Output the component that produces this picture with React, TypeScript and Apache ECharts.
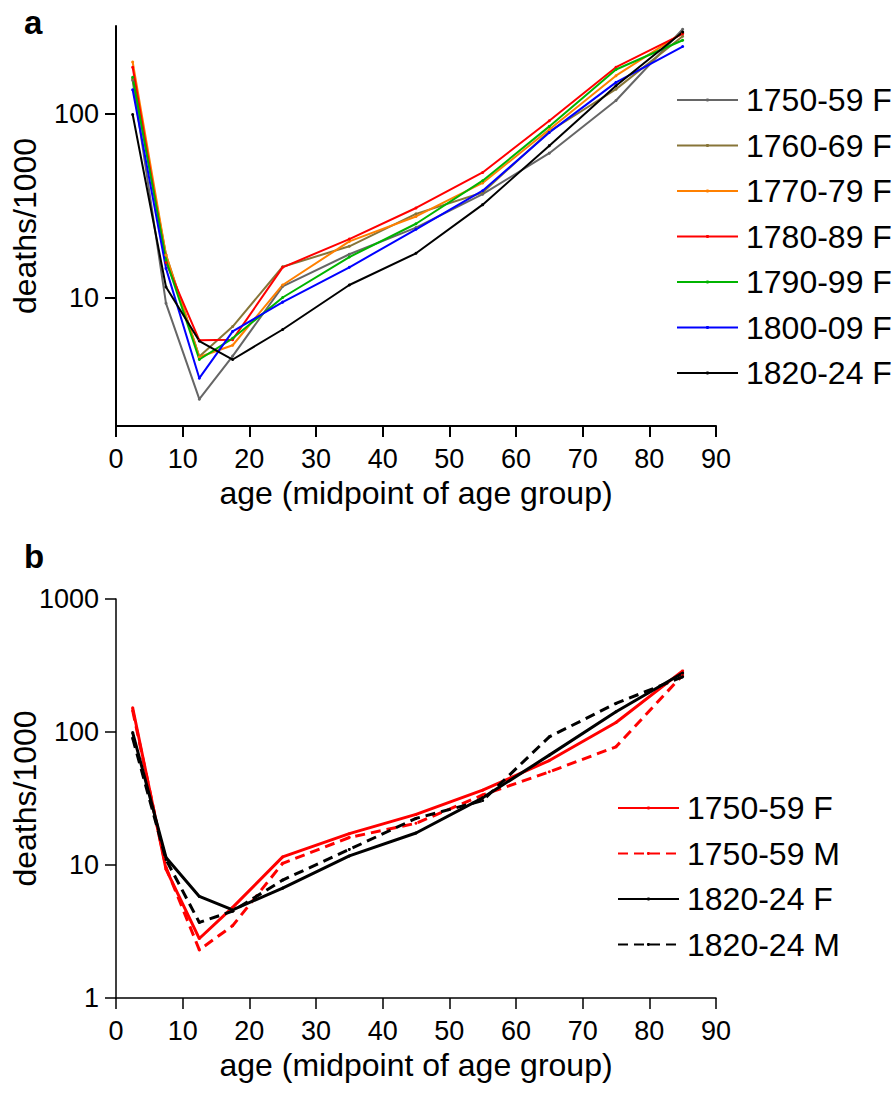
import React, { useEffect, useRef } from "react";
import * as echarts from "echarts";

const FONT = "'Liberation Sans', Arial, Helvetica, sans-serif";

// ages (midpoint of age group)
const ages = [2.5, 7.5, 12.5, 17.5, 25, 35, 45, 55, 65, 75, 85];

// panel a: female death rates per 1000
const f1750 = [152, 9.3, 2.8, 4.8, 11.5, 17.2, 24, 36.5, 61, 118, 288];
const f1760 = [155, 17.1, 4.78, 6.95, 14.7, 19.0, 28.5, 37.3, 80, 136, 264];
const f1770 = [191, 17, 4.75, 5.5, 11.7, 20.2, 27.6, 42, 82, 161, 275];
const f1780 = [179, 15.5, 5.85, 5.9, 14.6, 20.8, 30.7, 47.9, 91.6, 179, 272];
const f1790 = [158, 16, 4.6, 6.0, 10.0, 16.6, 25.2, 43.2, 85.3, 174, 251];
const f1800 = [135, 14.4, 3.64, 6.54, 9.44, 14.6, 23.5, 38.1, 79.1, 148, 232];
const f1820 = [99, 11.4, 5.8, 4.6, 6.7, 11.7, 17.4, 32, 67, 142, 278];

// panel b: males
const m1750 = [145, 9.6, 2.3, 3.5, 10.3, 16.1, 20.6, 33.6, 50.2, 77.4, 268];
const m1820 = [90, 11, 3.7, 4.5, 7.7, 13.1, 22.4, 30.5, 92, 164, 260];

const namesA = ["1750-59 F", "1760-69 F", "1770-79 F", "1780-89 F", "1790-99 F", "1800-09 F", "1820-24 F"];
const valuesA = [f1750, f1760, f1770, f1780, f1790, f1800, f1820];
const colorsA = ["#666666", "#877538", "#FF8000", "#FF0000", "#00B400", "#0000FF", "#000000"];

const namesB = ["1750-59 F", "1750-59 M", "1820-24 F", "1820-24 M"];
const valuesB = [f1750, m1750, f1820, m1820];
const colorsB = ["#FF0000", "#FF0000", "#000000", "#000000"];
const dashedB = [false, true, false, true];

const xTicks = [0, 10, 20, 30, 40, 50, 60, 70, 80, 90];
const yTicksA = [10, 100];
const yTicksB = [1, 10, 100, 1000];

function xAxisOpt(lw: number) {
  return {
    type: "value",
    min: 0,
    max: 90,
    interval: 10,
    name: "age (midpoint of age group)",
    nameLocation: "middle",
    nameGap: 51,
    nameMoveOverlap: false,
    nameTextStyle: { fontSize: 32, color: "#000", fontFamily: FONT },
    axisLine: { show: true, onZero: false, lineStyle: { color: "#000", width: lw } },
    axisTick: { show: true, length: 11, inside: false, customValues: xTicks, lineStyle: { color: "#000", width: lw } },
    axisLabel: { show: true, customValues: xTicks, fontSize: 27, color: "#000", margin: 19, fontFamily: FONT },
    splitLine: { show: false },
  };
}

function yAxisOpt(lw: number, min: number, max: number, ticks: number[]) {
  return {
    type: "log",
    logBase: 10,
    min,
    max,
    name: "deaths/1000",
    nameLocation: "middle",
    nameRotate: 90,
    nameGap: 75,
    nameMoveOverlap: false,
    nameTextStyle: { fontSize: 32, color: "#000", fontFamily: FONT },
    axisLine: { show: true, onZero: false, lineStyle: { color: "#000", width: lw } },
    axisTick: { show: true, length: 11, inside: false, customValues: ticks, lineStyle: { color: "#000", width: lw } },
    axisLabel: {
      show: true,
      customValues: ticks,
      fontSize: 27,
      color: "#000",
      margin: 17,
      fontFamily: FONT,
      formatter: (v: number) => String(Math.round(v)),
    },
    splitLine: { show: false },
    minorTick: { show: false },
  };
}

function legendOpt(left: number, top: number, names: string[]) {
  return {
    orient: "vertical",
    left,
    top,
    padding: 0,
    itemWidth: 61,
    itemHeight: 4,
    itemGap: 13.5,
    selectedMode: false,
    data: names,
    textStyle: { fontSize: 32, color: "#000", fontFamily: FONT, lineHeight: 32, padding: [0, 0, 0, 3] },
  };
}

function mkSeries(names: string[], values: number[][], colors: string[], width: number, dashed: boolean[]) {
  return names.map((n, i) => ({
    type: "line",
    name: n,
    data: ages.map((a, j) => [a, values[i][j]]),
    symbol: "circle",
    symbolSize: 3,
    showSymbol: true,
    color: colors[i],
    itemStyle: { color: colors[i] },
    lineStyle: { color: colors[i], width, type: dashed[i] ? [10, 6] : "solid" },
    emphasis: { disabled: true },
    silent: true,
  }));
}

export default function App() {
  const refA = useRef<HTMLDivElement>(null);
  const refB = useRef<HTMLDivElement>(null);

  useEffect(() => {
    const ca = echarts.init(refA.current!, undefined, { renderer: "svg" });
    const cb = echarts.init(refB.current!, undefined, { renderer: "svg" });
    ca.setOption({
      animation: false,
      backgroundColor: "transparent",
      textStyle: { fontFamily: FONT },
      grid: { left: 116, top: 26, width: 600, height: 400, containLabel: false, outerBoundsMode: "none" },
      xAxis: xAxisOpt(2),
      yAxis: yAxisOpt(2, 2, 300, yTicksA),
      legend: legendOpt(676, 84, namesA),
      graphic: [
        { type: "text", left: 24, top: 6, style: { text: "a", fontSize: 33, fontWeight: "bold", fill: "#000", fontFamily: FONT } },
      ],
      series: mkSeries(namesA, valuesA, colorsA, 2, namesA.map(() => false)),
    });
    cb.setOption({
      animation: false,
      backgroundColor: "transparent",
      textStyle: { fontFamily: FONT },
      grid: { left: 116, top: 79, width: 600, height: 399, containLabel: false, outerBoundsMode: "none" },
      xAxis: xAxisOpt(1.5),
      yAxis: yAxisOpt(1.5, 1, 1000, yTicksB),
      legend: legendOpt(617, 272, namesB),
      graphic: [
        { type: "text", left: 24, top: 20, style: { text: "b", fontSize: 33, fontWeight: "bold", fill: "#000", fontFamily: FONT } },
      ],
      series: mkSeries(namesB, valuesB, colorsB, 3, dashedB),
    });
    return () => {
      ca.dispose();
      cb.dispose();
    };
  }, []);

  return (
    <div style={{ position: "absolute", left: 0, top: 0, width: 895, height: 1093, background: "#fff" }}>
      <div ref={refA} style={{ position: "absolute", left: 0, top: 0, width: 895, height: 520 }} />
      <div ref={refB} style={{ position: "absolute", left: 0, top: 520, width: 895, height: 573 }} />
    </div>
  );
}
